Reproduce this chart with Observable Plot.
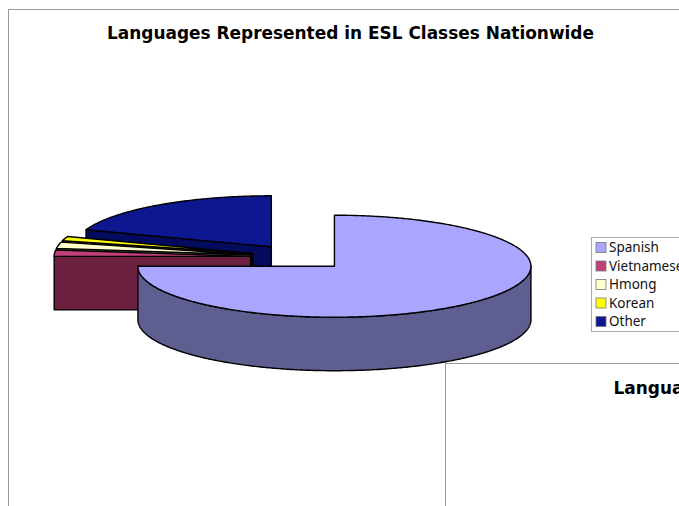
<!DOCTYPE html>
<html><head><meta charset="utf-8">
<script src="https://cdn.jsdelivr.net/npm/d3@7"></script>
<script src="https://cdn.jsdelivr.net/npm/@observablehq/plot@0.6"></script>
<style>html,body{margin:0;padding:0;background:#fff;overflow:hidden}svg{display:block}</style>
</head><body><div id="chart"></div>
<script>
const titleText = "Languages Represented in ESL Classes Nationwide";
const languages = ["Spanish", "Vietnamese", "Hmong", "Korean", "Other"];
const shares = [75, 2.0, 2.0, 1.4, 19.6];
const topColors = ["#aaa6ff", "#c2407a", "#ffffcc", "#ffff00", "#0c1790"];
const sideColors = ["#5e5e91", "#6b2040", "#7f7f66", "#7f7f00", "#040b5c"];

const W = 679, H = 506;
const pie = {cx: 299.2, cy: 256.7, rx: 196.5, ry: 51, depth: 53.5, explode: 0.25};
const slices = d3.pie().sort(null).value(d => d)(shares).map((s, i) => {
  const mid = (s.startAngle + s.endAngle) / 2;
  const k = pie.explode;
  return {i, a0: s.startAngle, a1: s.endAngle,
    cx: pie.cx + Math.sin(mid) * pie.rx * k,
    cy: pie.cy - Math.cos(mid) * pie.ry * k};
});
const pt = (s, a, dz = 0) => ({x: s.cx + Math.sin(a) * pie.rx, y: s.cy - Math.cos(a) * pie.ry + dz});
const arc = (s, a0, a1, dz = 0) => {
  const n = Math.max(2, Math.ceil(Math.abs(a1 - a0) / 0.01));
  return d3.range(n + 1).map(j => pt(s, a0 + (a1 - a0) * j / n, dz));
};
const faces = [];
// painter's order: back slices first
[4, 3, 2, 1, 0].forEach(i => {
  const s = slices[i];
  const c = {x: s.cx, y: s.cy}, cd = {x: s.cx, y: s.cy + pie.depth};
  // radial wall at the slice's leading edge when it faces the viewer
  if (Math.sin(s.a0) < -1e-6) {
    const e = pt(s, s.a0), ed = pt(s, s.a0, pie.depth);
    faces.push({pts: [c, e, ed, cd, c], fill: sideColors[i]});
  }
  // outer wall on the front half of the rim
  const lo = Math.max(s.a0, Math.PI / 2), hi = Math.min(s.a1, 3 * Math.PI / 2);
  if (hi > lo) {
    faces.push({pts: [...arc(s, lo, hi), ...arc(s, hi, lo, pie.depth)], fill: sideColors[i], close: true});
  }
  faces.push({pts: [c, ...arc(s, s.a0, s.a1), c], fill: topColors[i]});
});
faces.forEach(f => { if (f.close) f.pts.push(f.pts[0]); });

const legend = {x: 591.5, y: 237.5, w: 120, h: 94, top: 247.5, step: 18.5};
const plot = Plot.plot({
  width: W, height: H, margin: 0,
  x: {domain: [0, W], range: [0, W], axis: null},
  y: {domain: [0, H], range: [0, H], axis: null},
  style: {background: "#fff"},
  marks: [
    Plot.rect([{x1: 8.5, y1: 9.5, x2: 740, y2: 560}], {x1: "x1", x2: "x2", y1: "y1", y2: "y2", fill: "#fff", stroke: "#999"}),
    Plot.text([titleText], {x: () => 350, y: () => 33.5, text: d => d, fontSize: 16.95, fontWeight: "bold", fontFamily: "DejaVu Sans", fill: "#000", textAnchor: "middle"}),
    ...faces.map(f => Plot.line(f.pts, {x: "x", y: "y", fill: f.fill, stroke: "#000", strokeWidth: 1.4, strokeLinejoin: "round", curve: "linear"})),
    Plot.rect([legend], {x1: d => d.x, x2: d => d.x + d.w, y1: d => d.y, y2: d => d.y + d.h, fill: "#fff", stroke: "#aaa"}),
    Plot.rect(languages, {x1: () => 596, x2: () => 606, y1: (d, i) => legend.top + i * legend.step - 5, y2: (d, i) => legend.top + i * legend.step + 5, fill: (d, i) => topColors[i], stroke: "#777", strokeWidth: 0.8}),
    Plot.text(languages, {x: () => 608.5, y: (d, i) => legend.top + i * legend.step, text: d => d, fontSize: 13.5, fontFamily: "Noto Sans", fill: "#111", textAnchor: "start"}),
    Plot.rect([{x1: 445.5, y1: 363.5, x2: 900, y2: 600}], {x1: "x1", x2: "x2", y1: "y1", y2: "y2", fill: "#fff", stroke: "#999"}),
    Plot.text([titleText], {x: () => 856.5, y: () => 388.5, text: d => d, fontSize: 16.95, fontWeight: "bold", fontFamily: "DejaVu Sans", fill: "#000", textAnchor: "middle"})
  ]
});
document.getElementById("chart").append(plot);
</script></body></html>
